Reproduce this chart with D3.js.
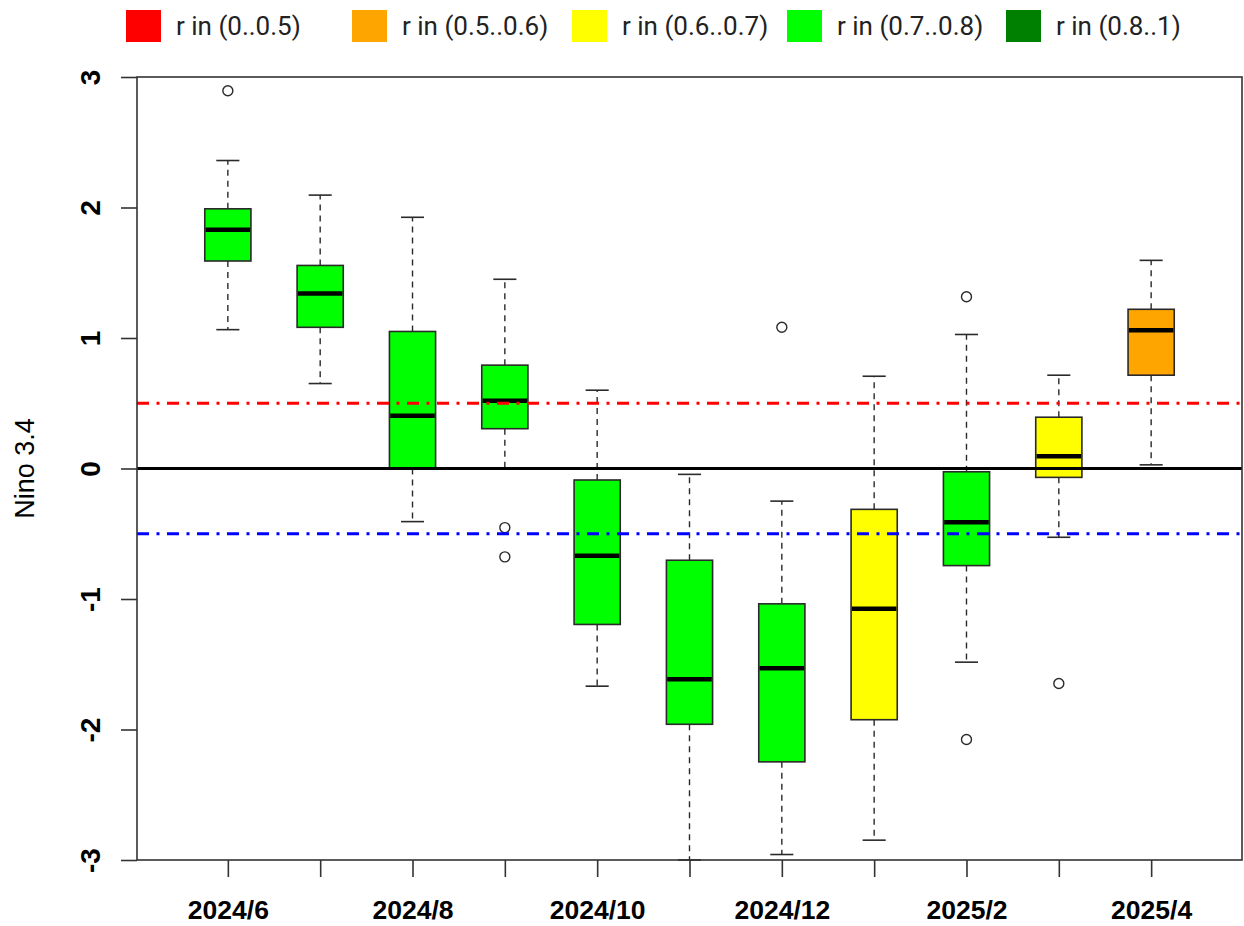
<!DOCTYPE html>
<html>
<head>
<meta charset="utf-8">
<script src="https://cdn.jsdelivr.net/npm/d3@7/dist/d3.min.js"></script>
<style>
  html, body { margin: 0; padding: 0; background: #fff; }
  svg { display: block; }
</style>
</head>
<body>
<svg id="chart" width="1244" height="926"></svg>
<script>
// ---------------- DATA ----------------
const months = ["2024/6","2024/7","2024/8","2024/9","2024/10","2024/11",
                "2024/12","2025/1","2025/2","2025/3","2025/4"];
const whiskerHigh = [2.36, 2.095, 1.925, 1.45, 0.60, -0.045, -0.25, 0.707, 1.027, 0.715, 1.595];
const q3Values    = [1.99, 1.556, 1.05, 0.792, -0.088, -0.703, -1.037, -0.313, -0.025, 0.393, 1.22];
const medians     = [1.83, 1.341, 0.405, 0.52, -0.668, -1.615, -1.53, -1.075, -0.412, 0.093, 1.06];
const q1Values    = [1.59, 1.082, 0.0, 0.305, -1.195, -1.96, -2.248, -1.925, -0.744, -0.068, 0.715];
const whiskerLow  = [1.064, 0.651, -0.407, 0.0, -1.668, -3.0, -2.958, -2.848, -1.484, -0.527, 0.028];
// correlation class per month (index into legend)
const rClass      = [3, 3, 3, 3, 3, 3, 3, 2, 3, 2, 1];
const outlierMonth = [0, 3, 3, 6, 8, 8, 9];
const outlierValue = [2.895, -0.453, -0.677, 1.082, 1.316, -2.077, -1.648];

const legendLabels = ["r in (0..0.5)", "r in (0.5..0.6)", "r in (0.6..0.7)", "r in (0.7..0.8)", "r in (0.8..1)"];
const legendColors = ["#FF0000", "#FFA500", "#FFFF00", "#00FF00", "#008000"];

const yTicks = [-3, -2, -1, 0, 1, 2, 3];
const refLines = [0.5, -0.5];
const refColors = ["#FF0000", "#0000FF"];
const yLabel = "Nino 3.4";

// ---------------- LAYOUT ----------------
const svg = d3.select("#chart");
const L = 137, R = 1242, T = 77, B = 860;
const n = months.length;
const x = d3.scaleLinear().domain([0.5 - 0.044 * n, n + 0.5 + 0.044 * n]).range([L, R]);
const y = d3.scaleLinear().domain([-3, 3]).range([B, T]);
const unit = x(1) - x(0);
const halfBox = 0.25 * unit;
const halfCap = 0.125 * unit;
const strokeCol = "#2a2a2a";
const sansFont = "'Liberation Sans', Arial, sans-serif";

// ---- boxes ----
const g = svg.append("g");
const idx = d3.range(n);

// whiskers (dashed)
g.selectAll("line.wu").data(idx).join("line")
  .attr("x1", i => x(i + 1)).attr("x2", i => x(i + 1))
  .attr("y1", i => y(q3Values[i])).attr("y2", i => y(whiskerHigh[i]))
  .attr("stroke", strokeCol).attr("stroke-width", 1.4).attr("stroke-dasharray", "6,5");
g.selectAll("line.wl").data(idx).join("line")
  .attr("x1", i => x(i + 1)).attr("x2", i => x(i + 1))
  .attr("y1", i => y(q1Values[i])).attr("y2", i => y(whiskerLow[i]))
  .attr("stroke", strokeCol).attr("stroke-width", 1.4).attr("stroke-dasharray", "6,5");
// caps
g.selectAll("line.cu").data(idx).join("line")
  .attr("x1", i => x(i + 1) - halfCap).attr("x2", i => x(i + 1) + halfCap)
  .attr("y1", i => y(whiskerHigh[i])).attr("y2", i => y(whiskerHigh[i]))
  .attr("stroke", strokeCol).attr("stroke-width", 1.6);
g.selectAll("line.cl").data(idx).join("line")
  .attr("x1", i => x(i + 1) - halfCap).attr("x2", i => x(i + 1) + halfCap)
  .attr("y1", i => y(whiskerLow[i])).attr("y2", i => y(whiskerLow[i]))
  .attr("stroke", strokeCol).attr("stroke-width", 1.6);
// boxes
g.selectAll("rect.box").data(idx).join("rect")
  .attr("x", i => x(i + 1) - halfBox)
  .attr("width", 2 * halfBox)
  .attr("y", i => y(q3Values[i]))
  .attr("height", i => y(q1Values[i]) - y(q3Values[i]))
  .attr("fill", i => legendColors[rClass[i]])
  .attr("stroke", strokeCol).attr("stroke-width", 1.6);
// medians
g.selectAll("line.med").data(idx).join("line")
  .attr("x1", i => x(i + 1) - halfBox + 0.8).attr("x2", i => x(i + 1) + halfBox - 0.8)
  .attr("y1", i => y(medians[i])).attr("y2", i => y(medians[i]))
  .attr("stroke", "#000").attr("stroke-width", 4.5);
// outliers
g.selectAll("circle.out").data(d3.range(outlierMonth.length)).join("circle")
  .attr("cx", j => x(outlierMonth[j] + 1))
  .attr("cy", j => y(outlierValue[j]))
  .attr("r", 5)
  .attr("fill", "none").attr("stroke", strokeCol).attr("stroke-width", 1.4);

// ---- reference lines ----
svg.selectAll("line.ref").data(refLines).join("line")
  .attr("x1", L).attr("x2", R)
  .attr("y1", d => y(d)).attr("y2", d => y(d))
  .attr("stroke", (d, i) => refColors[i]).attr("stroke-width", 3)
  .attr("stroke-dasharray", "12,7.5,3,7.5");
svg.append("line")
  .attr("x1", L).attr("x2", R).attr("y1", y(0)).attr("y2", y(0))
  .attr("stroke", "#000").attr("stroke-width", 2.8);

// ---- plot frame ----
svg.append("rect")
  .attr("x", L).attr("y", T).attr("width", R - L).attr("height", B - T)
  .attr("fill", "none").attr("stroke", "#333").attr("stroke-width", 1.6);

// ---- y axis ----
const yAxis = svg.append("g").attr("transform", `translate(${L},0)`)
  .call(d3.axisLeft(y).tickValues(yTicks).tickSize(16).tickSizeOuter(0).tickFormat(d => String(d)));
yAxis.select(".domain").remove();
yAxis.selectAll(".tick line").attr("stroke", "#333").attr("stroke-width", 1.6);
yAxis.selectAll(".tick text")
  .attr("x", 0).attr("dy", 0)
  .attr("transform", "translate(-37,0) rotate(-90)")
  .attr("text-anchor", "middle")
  .attr("font-family", sansFont)
  .attr("font-weight", "bold")
  .attr("font-size", 28)
  .attr("fill", "#000");

// ---- x axis ----
const xAxis = svg.append("g").attr("transform", `translate(0,${B})`)
  .call(d3.axisBottom(x).tickValues(d3.range(1, n + 1)).tickSize(17).tickSizeOuter(0)
    .tickFormat(d => (d - 1) % 2 === 0 ? months[d - 1] : ""));
xAxis.select(".domain").remove();
xAxis.selectAll(".tick line").attr("stroke", "#333").attr("stroke-width", 1.6);
xAxis.selectAll(".tick text")
  .attr("y", 59).attr("dy", 0)
  .attr("font-family", sansFont)
  .attr("font-weight", "bold")
  .attr("font-size", 26.5)
  .attr("fill", "#000");

// ---- y label ----
svg.append("text")
  .attr("transform", `translate(34,${y(0)}) rotate(-90)`)
  .attr("text-anchor", "middle")
  .attr("font-family", sansFont)
  .attr("font-size", 27)
  .attr("fill", "#000")
  .text(yLabel);

// ---- legend ----
const legendX = [126, 352, 572, 787, 1006];
const leg = svg.append("g");
const items = leg.selectAll("g.item").data(d3.range(legendLabels.length)).join("g")
  .attr("transform", i => `translate(${legendX[i]},10)`);
items.append("rect").attr("width", 35).attr("height", 32)
  .attr("fill", i => legendColors[i]);
items.append("text").attr("x", 50).attr("y", 25)
  .attr("font-family", "Roboto, 'Noto Sans', sans-serif")
  .attr("font-size", 26)
  .attr("fill", "#222")
  .text(i => legendLabels[i]);
</script>
</body>
</html>
